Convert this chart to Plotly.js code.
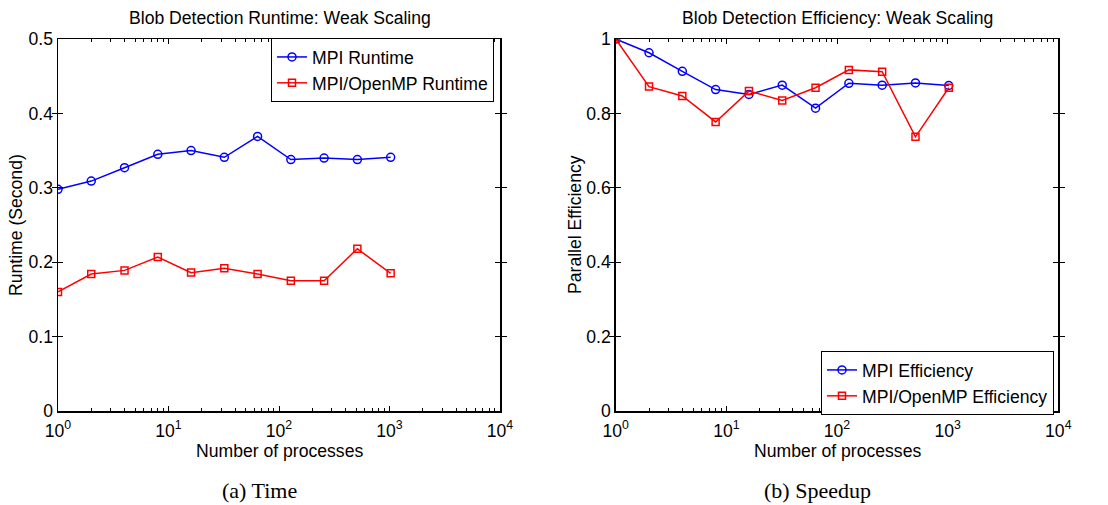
<!DOCTYPE html>
<html>
<head>
<meta charset="utf-8">
<script src="https://cdn.plot.ly/plotly-3.0.1.min.js"></script>
<style>html,body{margin:0;padding:0;background:#fff;}#chart{width:1108px;height:505px;}</style>
</head>
<body>
<div id="chart"></div>
<script>
// ---- data ----
var processes = [1, 2, 4, 8, 16, 32, 64, 128, 256, 512, 1024];
var mpiRuntime = [0.298, 0.309, 0.327, 0.345, 0.350, 0.341, 0.369, 0.338, 0.340, 0.338, 0.341];
var hybridRuntime = [0.160, 0.184, 0.189, 0.207, 0.186, 0.192, 0.184, 0.175, 0.175, 0.218, 0.185];
var mpiEfficiency = [1.0, 0.963, 0.913, 0.864, 0.851, 0.876, 0.814, 0.881, 0.876, 0.882, 0.875];
var hybridEfficiency = [1.0, 0.872, 0.847, 0.777, 0.860, 0.835, 0.869, 0.917, 0.912, 0.737, 0.869];
var xTickVals = [1, 10, 100, 1000, 10000];
var xTickText = ['10<sup>0</sup>', '10<sup>1</sup>', '10<sup>2</sup>', '10<sup>3</sup>', '10<sup>4</sup>'];
var leftTitle = 'Blob Detection Runtime: Weak Scaling';
var rightTitle = 'Blob Detection Efficiency: Weak Scaling';
var xLabel = 'Number of processes';
var leftYLabel = 'Runtime (Second)';
var rightYLabel = 'Parallel Efficiency';
var leftCaption = '(a) Time';
var rightCaption = '(b) Speedup';

// minor log ticks (2..9 within each decade)
var minorVals = [];
for (var d = 0; d < 4; d++) {
  for (var m = 2; m <= 9; m++) minorVals.push(m * Math.pow(10, d));
}

var W = 1108, H = 505;
var FS = 17.6;
var FONT = 'Liberation Sans, Arial, Helvetica, sans-serif';
function px(x) { return x / W; }
function py(y) { return (H - y) / H; }

var blue = '#0000ff', red = '#ff0000';
function tr(x, y, name, color, symbol, xa, ya, leg) {
  return {
    x: x, y: y, name: name, type: 'scatter', mode: 'lines+markers',
    xaxis: xa, yaxis: ya, legend: leg,
    line: {color: color, width: 1.5},
    marker: {symbol: symbol, size: symbol === 'circle-open' ? 8 : 7, color: color, line: {color: color, width: 1.5}}
  };
}
// empty helper traces so the minor-tick overlay axes are always drawn
function holder(xa, ya) {
  return {x: [], y: [], type: 'scatter', mode: 'lines', xaxis: xa, yaxis: ya, showlegend: false, hoverinfo: 'skip'};
}
var data = [
  tr(processes, mpiRuntime, 'MPI Runtime', blue, 'circle-open', 'x', 'y', 'legend'),
  tr(processes, hybridRuntime, 'MPI/OpenMP Runtime', red, 'square-open', 'x', 'y', 'legend'),
  tr(processes, mpiEfficiency, 'MPI Efficiency', blue, 'circle-open', 'x2', 'y2', 'legend2'),
  tr(processes, hybridEfficiency, 'MPI/OpenMP Efficiency', red, 'square-open', 'x2', 'y2', 'legend2'),
  holder('x3', 'y'),
  holder('x4', 'y2')
];

function xaxis(dom, anchor) {
  return {
    domain: dom, anchor: anchor, type: 'log', range: [0, 4],
    tickmode: 'array', tickvals: xTickVals, ticktext: xTickText,
    ticks: 'inside', ticklen: 5, tickwidth: 1, tickcolor: '#000',
    mirror: 'allticks', showline: true, linecolor: '#000', linewidth: 1.5,
    showgrid: false, zeroline: false,
    ticklabelstandoff: 3,
    tickfont: {family: FONT, size: FS, color: '#000'},
    fixedrange: true
  };
}
// overlay axis that only carries the minor log ticks
function minorAxis(dom, anchor, over) {
  return {
    domain: dom, anchor: anchor, overlaying: over, type: 'log', range: [0, 4],
    tickmode: 'array', tickvals: minorVals, showticklabels: false,
    ticks: 'inside', ticklen: 3, tickwidth: 1, tickcolor: '#000',
    mirror: 'ticks', showline: false, showgrid: false, zeroline: false,
    fixedrange: true
  };
}
function yaxis(dom, anchor, rng, dt) {
  return {
    domain: dom, anchor: anchor, range: rng, dtick: dt, tick0: 0,
    ticks: 'inside', ticklen: 5, tickwidth: 1, tickcolor: '#000',
    mirror: 'allticks', showline: true, linecolor: '#000', linewidth: 1.5,
    showgrid: false, zeroline: false,
    tickfont: {family: FONT, size: FS, color: '#000'},
    fixedrange: true
  };
}
var yDom = [py(411), py(39)];
var dom1 = [px(58), px(500)], dom2 = [px(615.7), px(1058.3)];
var legendBase = {
  bgcolor: '#fff', bordercolor: '#000', borderwidth: 1,
  font: {family: FONT, size: FS, color: '#000'},
  tracegroupgap: 0, itemwidth: 30
};
var legend1 = Object.assign({}, legendBase, {x: px(494), xanchor: 'right', y: py(38), yanchor: 'top'});
var legend2 = Object.assign({}, legendBase, {x: px(1054), xanchor: 'right', y: py(415), yanchor: 'bottom'});

function ann(text, x, y, opts) {
  return Object.assign({
    text: text, xref: 'paper', yref: 'paper', x: px(x), y: py(y),
    xanchor: 'center', yanchor: 'middle', showarrow: false,
    font: {family: FONT, size: FS, color: '#000'}
  }, opts || {});
}
var serif = {family: 'Liberation Serif, Times New Roman, serif', size: 22, color: '#000'};

var layout = {
  width: W, height: H,
  margin: {l: 0, r: 0, t: 0, b: 0},
  paper_bgcolor: '#fff', plot_bgcolor: '#fff',
  xaxis: xaxis(dom1, 'y'),
  yaxis: yaxis(yDom, 'x', [0, 0.5], 0.1),
  xaxis2: xaxis(dom2, 'y2'),
  yaxis2: yaxis(yDom, 'x2', [0, 1], 0.2),
  xaxis3: minorAxis(dom1, 'y', 'x'),
  xaxis4: minorAxis(dom2, 'y2', 'x2'),
  legend: legend1,
  legend2: legend2,
  showlegend: true,
  annotations: [
    ann(leftTitle, 280, 18),
    ann(rightTitle, 837, 18),
    ann(xLabel, 279, 451),
    ann(xLabel, 837, 451),
    ann(leftYLabel, 16, 225, {textangle: -90}),
    ann(rightYLabel, 575, 225, {textangle: -90}),
    ann(leftCaption, 259, 490, {font: serif}),
    ann(rightCaption, 817, 490, {font: serif})
  ]
};
Plotly.newPlot('chart', data, layout, {displayModeBar: false, staticPlot: true});
</script>
</body>
</html>
